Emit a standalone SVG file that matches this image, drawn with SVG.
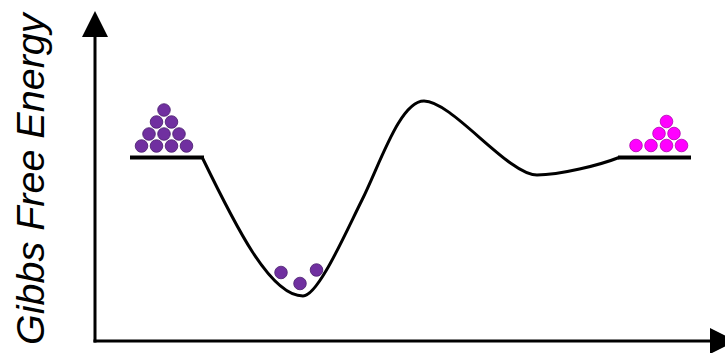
<svg xmlns="http://www.w3.org/2000/svg" width="725" height="353" viewBox="0 0 725 353">
<style>
.ax{stroke:#000;stroke-width:3;fill:none}
.head{fill:#000}
.curve{stroke:#000;stroke-width:3;fill:none;stroke-linejoin:round}
.level{stroke:#000;stroke-width:4}
.p{fill:#7030A0;stroke:#4a1f6e;stroke-width:0.8}
.m{fill:#FF00FF;stroke:#b000b0;stroke-width:0.8}
.lbl{font-family:"Liberation Sans",Arial,sans-serif;font-style:italic;font-size:39.5px;fill:#000}
</style>
<rect width="725" height="353" fill="#fff"/>
<g id="axes">
<line class="ax" x1="95" y1="342.5" x2="95" y2="36"/>
<polygon class="head" points="82,37 95,11 108,37"/>
<line class="ax" x1="93.5" y1="341" x2="711" y2="341"/>
<polygon class="head" points="710,328 736,341 710,354"/>
</g>
<g id="y-label">
<text class="lbl" transform="translate(44,345) rotate(-90)">Gibbs Free Energy</text>
</g>
<g id="connectors">
<path class="curve" d="M202,157 C235,225 270,296 303,296 C318,296 345,234 362,200 C380,164 400,101 424,101 C452,101 508,175 537,175 C560,175 600,165 619,157.5"/>
</g>
<g id="reactant">
<line class="level" x1="130" y1="157.5" x2="204" y2="157.5"/>
<circle class="p" cx="164" cy="110" r="6.3"/>
<circle class="p" cx="156.5" cy="122" r="6.3"/>
<circle class="p" cx="171.5" cy="122" r="6.3"/>
<circle class="p" cx="149" cy="134" r="6.3"/>
<circle class="p" cx="164" cy="134" r="6.3"/>
<circle class="p" cx="179" cy="134" r="6.3"/>
<circle class="p" cx="141.5" cy="146" r="6.3"/>
<circle class="p" cx="156.5" cy="146" r="6.3"/>
<circle class="p" cx="171.5" cy="146" r="6.3"/>
<circle class="p" cx="186.5" cy="146" r="6.3"/>
</g>
<g id="intermediate">
<circle class="p" cx="281" cy="272.5" r="6.3"/>
<circle class="p" cx="300" cy="283.5" r="6.3"/>
<circle class="p" cx="316.5" cy="270" r="6.3"/>
</g>
<g id="product">
<line class="level" x1="618" y1="157.5" x2="691" y2="157.5"/>
<circle class="m" cx="666.5" cy="121.5" r="6.3"/>
<circle class="m" cx="659" cy="133.5" r="6.3"/>
<circle class="m" cx="674" cy="133.5" r="6.3"/>
<circle class="m" cx="636" cy="145.5" r="6.3"/>
<circle class="m" cx="651" cy="145.5" r="6.3"/>
<circle class="m" cx="666.5" cy="145.5" r="6.3"/>
<circle class="m" cx="681.5" cy="145.5" r="6.3"/>
</g>
</svg>
